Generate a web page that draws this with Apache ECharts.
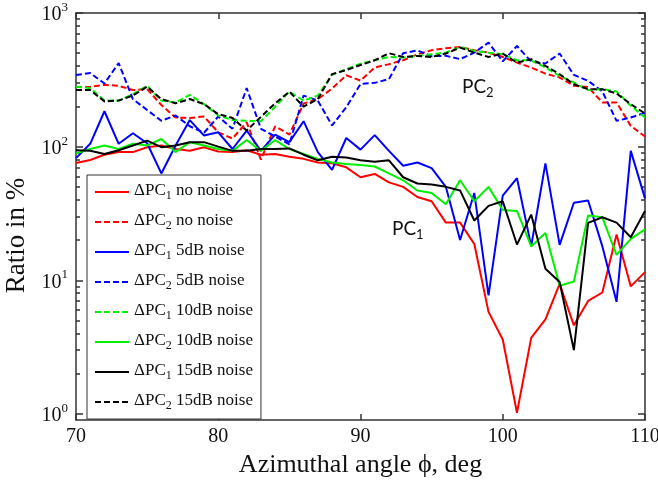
<!DOCTYPE html>
<html><head><meta charset="utf-8">
<script src="https://cdn.jsdelivr.net/npm/echarts@6/dist/echarts.min.js"></script>
<style>html,body{margin:0;padding:0;background:#fff}#c{width:658px;height:482px}</style>
</head><body><div id="c"></div>
<script>
// Azimuthal angle (deg)
const angles = [70,71,72,73,74,75,76,77,78,79,80,81,82,83,84,85,86,87,88,89,90,91,92,93,94,95,96,97,98,99,100,101,102,103,104,105,106,107,108,109,110];

// ratio in %
const dPC1NoNoise = [75.5,79.5,87,91,91,99,102,96,93,99,92,91,94,87,88,84,81,76,75,70,59,62.5,54,50,42,39,27,27,18.7,5.8,3.6,1.02,3.7,5.1,9.4,4.6,7.0,8.1,22,9.0,11.5];
const dPC2NoNoise = [280,280,290,285,265,270,205,165,164,168,128,115,152,80,142,123,210,226,272,342,312,391,414,443,491,526,545,557,526,505,469,425,391,352,329,285,280,214,214,143,119];
const dPC1_5dB = [82,105,184,105,126,106,63,102,158,121,128,96,132,93,123,108,155,91,67,116,95,122,93,72,76,69,50,20,45,7.7,43,58,18,75,18.4,38,39.5,18,6.9,93,41];
const dPC2_5dB = [343,355,297,422,227,188,156,171,142,127,168,136,274,136,119,104,241,221,144,197,294,300,320,500,525,475,478,452,505,600,435,566,433,419,497,344,311,259,156,165,179];
const dPC1_10dB = [281,274,221,221,247,286,221,214,244,208,171,158,156,155,199,258,221,241,345,380,417,443,469,464,477,491,505,557,520,505,491,443,443,391,339,302,265,269,259,202,165];
const dPC2_10dB = [89,96,102,96,105,102,114,91,108,102,96,93,112,93,112,96,88,81,76,74,73,71,63,56,47,45,37,56,39,50,33.6,33,17.9,22.6,9.1,9.8,30.5,29.6,15.5,20.4,24];
const dPC1_15dB = [94,93,88,94,102,111,99,102,108,108,100,93,93,96,96,97,87,79,84,83,79,77,79,59,53,52,50,47,28,36,39,18.5,31,12.2,9.7,3.0,26.9,29.6,27,21,33];
const dPC2_15dB = [265,265,218,221,241,281,227,211,227,208,175,164,132,167,211,258,199,227,349,374,408,443,500,469,477,469,497,551,505,469,497,425,451,402,348,293,269,269,250,208,177];

const seriesNames = ['ΔPC1 no noise','ΔPC2 no noise','ΔPC1 5dB noise','ΔPC2 5dB noise','ΔPC1 10dB noise','ΔPC2 10dB noise','ΔPC1 15dB noise','ΔPC2 15dB noise'];
const seriesData = [dPC1NoNoise,dPC2NoNoise,dPC1_5dB,dPC2_5dB,dPC1_10dB,dPC2_10dB,dPC1_15dB,dPC2_15dB];
const seriesColors = ['#ff0000','#ff0000','#0000ff','#0000ff','#00f000','#00f000','#000000','#000000'];
const seriesDashed = [false,true,false,true,true,false,false,true];

const xTicks = [70,80,90,100,110];
const yMajorTicks = [1,10,100,1000];
const yMinorTicks = [2,3,4,5,6,7,8,9,20,30,40,50,60,70,80,90,200,300,400,500,600,700,800,900];

const serif = 'Liberation Serif';
const frame = {color:'#333', width:1.5};
const txt = '#111';

const chart = echarts.init(document.getElementById('c'), null, {renderer:'canvas'});

function logAxis(pos, ticks, len, showLine, showLabel, extra) {
  return Object.assign({
    type:'log', logBase:10, min:0.9, max:1000, position:pos,
    axisLine:{show:showLine, lineStyle:frame},
    axisTick:{show:true, inside:true, length:len, customValues:ticks, lineStyle:frame},
    axisLabel:{show:showLabel, customValues:yMajorTicks, margin:8,
      formatter:function(v){ return '{b|10}{s|' + Math.round(Math.log10(v)) + '}'; },
      rich:{
        b:{fontFamily:serif, fontSize:20, color:txt, lineHeight:24, verticalAlign:'bottom'},
        s:{fontFamily:serif, fontSize:13, color:txt, lineHeight:13, verticalAlign:'top'}
      }},
    splitLine:{show:false}, minorTick:{show:false}, minorSplitLine:{show:false}
  }, extra || {});
}

const option = {
  animation:false,
  backgroundColor:'#fff',
  grid:{left:76, right:13, top:13, bottom:62, containLabel:false, outerBoundsMode:'none'},
  xAxis:[
    {type:'value', min:70, max:110, interval:10, position:'bottom',
     axisLine:{show:true, lineStyle:frame},
     axisTick:{show:true, inside:true, length:6, customValues:xTicks, lineStyle:frame},
     axisLabel:{fontFamily:serif, fontSize:20, color:txt, margin:7},
     splitLine:{show:false},
     name:'Azimuthal angle ϕ, deg', nameLocation:'middle', nameGap:29,
     nameTextStyle:{fontFamily:serif, fontSize:26, color:txt}},
    {type:'value', min:70, max:110, interval:10, position:'top',
     axisLine:{show:true, lineStyle:frame},
     axisTick:{show:true, inside:true, length:6, customValues:xTicks, lineStyle:frame},
     axisLabel:{show:false}, splitLine:{show:false}}
  ],
  yAxis:[
    logAxis('left', yMajorTicks, 7, true, true, {
      name:'Ratio in %', nameLocation:'middle', nameGap:30, nameRotate:90,
      nameTextStyle:{fontFamily:serif, fontSize:27, color:txt, padding:[0,38,0,0]}}),
    logAxis('left', yMinorTicks, 4, false, false),
    logAxis('right', yMajorTicks, 7, true, false),
    logAxis('right', yMinorTicks, 4, false, false)
  ],
  legend:{
    orient:'vertical', left:87, top:175, padding:[7,8,7,7],
    itemWidth:34, itemHeight:14, itemGap:10,
    backgroundColor:'#fff', borderColor:'#333', borderWidth:1, borderRadius:0,
    itemStyle:{opacity:0},
    data:seriesNames,
    formatter:function(name){
      const m = name.match(/^ΔPC(\d)(.*)$/);
      return '{n|ΔPC}{s|' + m[1] + '}{n|' + m[2] + '}';
    },
    textStyle:{rich:{
      n:{fontFamily:serif, fontSize:17, color:txt, lineHeight:20, verticalAlign:'top'},
      s:{fontFamily:serif, fontSize:12, color:txt, lineHeight:12, verticalAlign:'bottom'}
    }}
  },
  graphic:[
    {type:'text', left:462, top:77, z:100, style:{text:'{a|PC}{b|2}', rich:{
      a:{fontFamily:'Lato', fontSize:19, fill:'#111', lineHeight:22, verticalAlign:'top'},
      b:{fontFamily:'Lato', fontSize:13, fill:'#111', lineHeight:13, verticalAlign:'bottom'}}}},
    {type:'text', left:392, top:219, z:100, style:{text:'{a|PC}{b|1}', rich:{
      a:{fontFamily:'Lato', fontSize:19, fill:'#111', lineHeight:22, verticalAlign:'top'},
      b:{fontFamily:'Lato', fontSize:13, fill:'#111', lineHeight:13, verticalAlign:'bottom'}}}}
  ],
  series: seriesNames.map(function(name, k){
    return {
      name:name, type:'line', xAxisIndex:0, yAxisIndex:0,
      data: angles.map(function(a,i){ return [a, seriesData[k][i]]; }),
      symbol:'none', showSymbol:false, smooth:false,
      lineStyle:{color:seriesColors[k], width:2, type: seriesDashed[k] ? [6,3] : 'solid'},
      itemStyle:{color:seriesColors[k]},
      emphasis:{disabled:true}
    };
  })
};
chart.setOption(option);
</script>
</body></html>
